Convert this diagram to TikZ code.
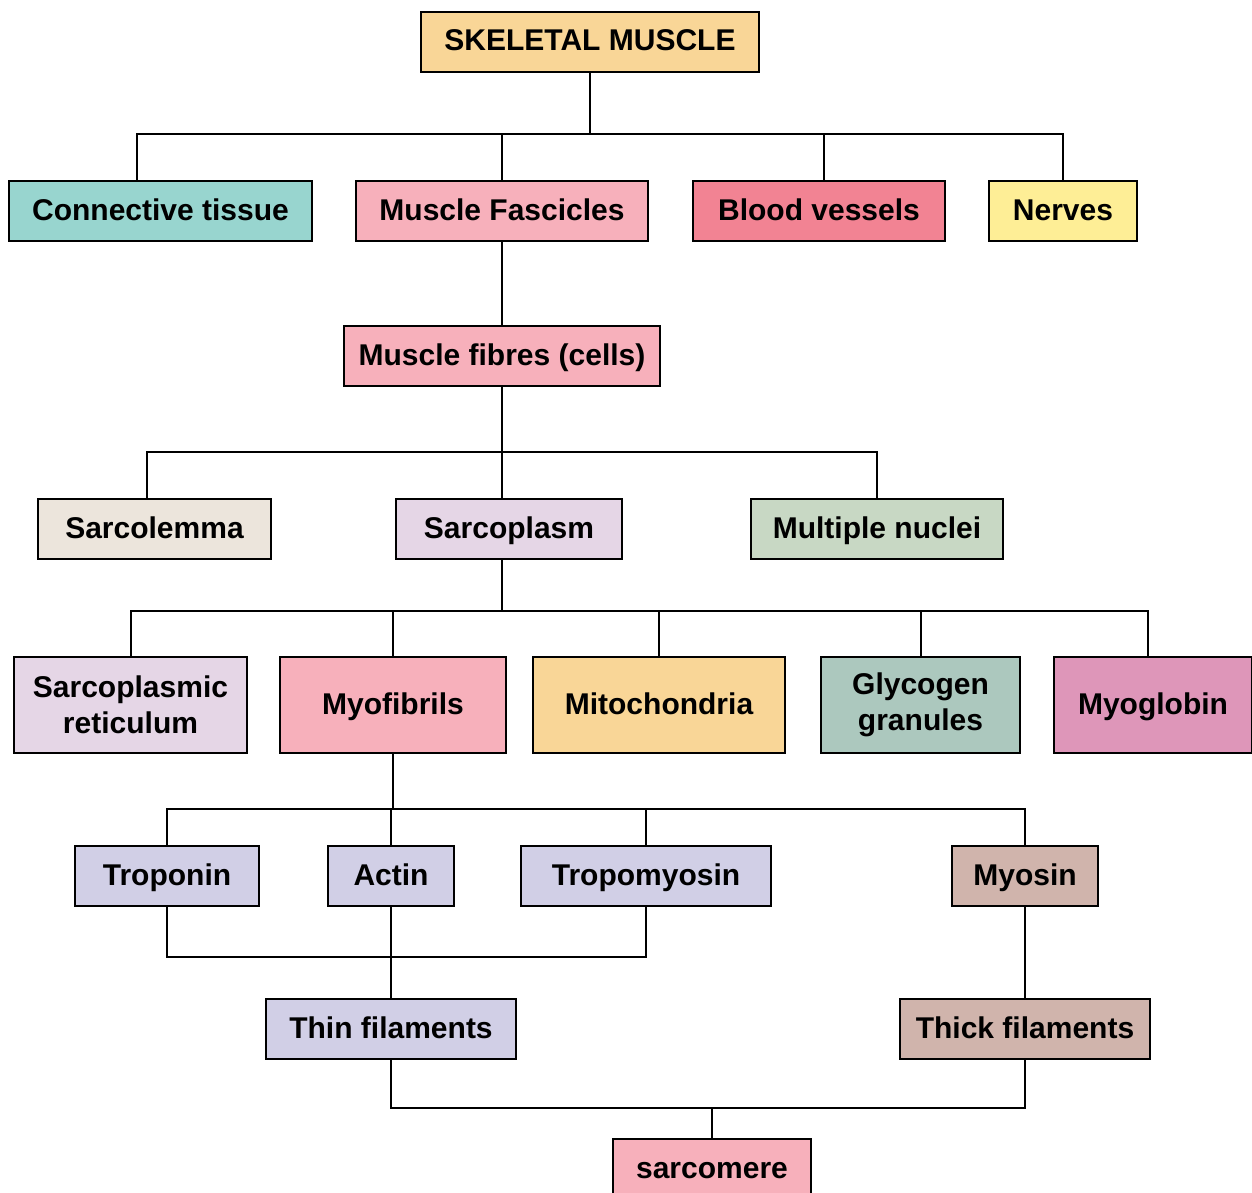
\documentclass[tikz,border=0pt]{standalone}
\usepackage{fontspec}
\setmainfont{Liberation Sans}
\definecolor{skorange}{RGB}{249,214,151}
\definecolor{skteal}{RGB}{152,213,207}
\definecolor{skpink}{RGB}{247,176,187}
\definecolor{skred}{RGB}{242,131,147}
\definecolor{skyellow}{RGB}{254,238,150}
\definecolor{skbeige}{RGB}{236,229,220}
\definecolor{sklilac}{RGB}{229,214,230}
\definecolor{sksage}{RGB}{200,216,196}
\definecolor{skgreen}{RGB}{172,200,190}
\definecolor{skmauve}{RGB}{222,150,185}
\definecolor{skviolet}{RGB}{209,207,230}
\definecolor{skbrown}{RGB}{208,180,172}
\usetikzlibrary{positioning}

\begin{document}
\begin{tikzpicture}[x=0.5pt, y=-0.5pt,
  box/.style={draw, line width=1.2pt, font=\bfseries\fontsize{15}{18}\selectfont,
    inner sep=0pt, align=center, minimum height=30pt},
  oneline/.style={box, text height=11pt, text depth=2pt},
  tall/.style={box, minimum height=48pt},
  tallone/.style={oneline, minimum height=48pt},
  link/.style={line width=1pt}]
  \useasboundingbox (0,0) rectangle (1252,1193);
  % top level
  \node[oneline, fill=skorange, minimum width=169pt] (skm) at (590,42) {SKELETAL MUSCLE};
  \node[oneline, fill=skteal, minimum width=151.5pt] (ct) at (160.5,211) {Connective tissue};
  \node[oneline, fill=skpink, minimum width=146pt] (fasc) at (502,211) {Muscle Fascicles};
  \node[oneline, fill=skred, minimum width=126pt] (bv) at (819,211) {Blood vessels};
  \node[oneline, fill=skyellow, minimum width=74pt] (nerv) at (1063,211) {Nerves};
  \node[oneline, fill=skpink, minimum width=158pt] (fib) at (502,356) {Muscle fibres (cells)};
  % parts of the fibre
  \node[oneline, fill=skbeige, minimum width=116.5pt] (slm) at (154.5,529) {Sarcolemma};
  \node[oneline, fill=sklilac, minimum width=113pt] (spl) at (509,529) {Sarcoplasm};
  \node[oneline, fill=sksage, minimum width=126pt] (nucl) at (877,529) {Multiple nuclei};
  % sarcoplasm contents
  \node[tall, fill=sklilac, minimum width=116.5pt] (sr) at (130.5,705) {Sarcoplasmic\\reticulum};
  \node[tallone, fill=skpink, minimum width=113pt] (myf) at (393,705) {Myofibrils};
  \node[tallone, fill=skorange, minimum width=126pt] (mito) at (659,705) {Mitochondria};
  \node[tall, fill=skgreen, minimum width=99.5pt] (gly) at (920.5,705) {Glycogen\\granules};
  \node[tallone, fill=skmauve, minimum width=99pt] (myg) at (1153,705) {Myoglobin};
  % proteins
  \node[oneline, fill=skviolet, minimum width=92pt] (trop) at (167,876) {Troponin};
  \node[oneline, fill=skviolet, minimum width=63pt] (act) at (391,876) {Actin};
  \node[oneline, fill=skviolet, minimum width=125pt] (tpm) at (646,876) {Tropomyosin};
  \node[oneline, fill=skbrown, minimum width=73pt] (myo) at (1025,876) {Myosin};
  \node[oneline, fill=skviolet, minimum width=125pt] (thin) at (391,1029) {Thin filaments};
  \node[oneline, fill=skbrown, minimum width=125pt] (thick) at (1025,1029) {Thick filaments};
  \node[oneline, fill=skpink, minimum width=99pt] (sarc) at (712,1169) {sarcomere};

  % connectors
  \draw[link] (skm.south) -- ++(0,61) -| ([xshift=-12pt]ct.north);
  \draw[link] (skm.south) -- ++(0,61) -| (fasc.north);
  \draw[link] (skm.south) -- ++(0,61) -| ([xshift=2.5pt]bv.north);
  \draw[link] (skm.south) -- ++(0,61) -| (nerv.north);
  \draw[link] (fasc) -- (fib);
  \draw[link] (fib.south) -- ++(0,65) -| ([xshift=-4pt]slm.north);
  \draw[link] (fib.south) -- ++(0,65) -| ([xshift=-3.5pt]spl.north);
  \draw[link] (fib.south) -- ++(0,65) -| (nucl.north);
  \foreach \part in {sr, myf, mito, gly}
    \draw[link] ([xshift=-3.5pt]spl.south) -- ++(0,51) -| (\part.north);
  \draw[link] ([xshift=-3.5pt]spl.south) -- ++(0,51) -| ([xshift=-2.5pt]myg.north);
  \foreach \part in {trop, act, tpm, myo}
    \draw[link] (myf.south) -- ++(0,55) -| (\part.north);
  \draw[link] (trop.south) -- ++(0,50) -| (tpm.south);
  \draw[link] (act) -- (thin);
  \draw[link] (myo) -- (thick);
  \draw[link] (thin.south) -- ++(0,48) -| (thick.south);
  \draw[link] (sarc.north) -- ++(0,-29.6);
\end{tikzpicture}
\end{document}
